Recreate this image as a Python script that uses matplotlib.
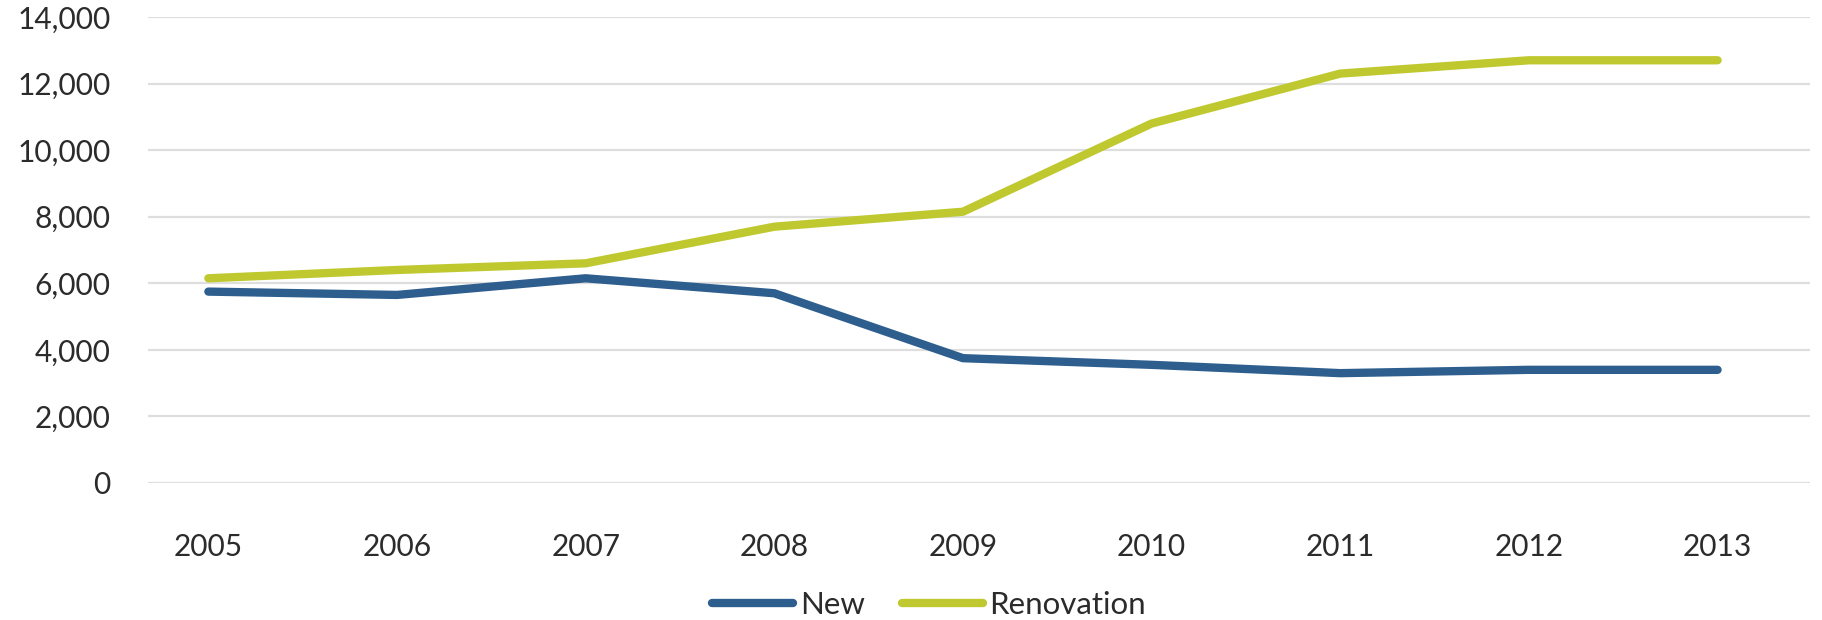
import matplotlib
matplotlib.use("Agg")
import matplotlib.pyplot as plt
from matplotlib.ticker import FuncFormatter

years = ["2005", "2006", "2007", "2008", "2009", "2010", "2011", "2012", "2013"]
new = [5750, 5650, 6150, 5700, 3750, 3550, 3300, 3400, 3400]
renovation = [6150, 6400, 6600, 7700, 8150, 10800, 12300, 12700, 12700]
yticks = [0, 2000, 4000, 6000, 8000, 10000, 12000, 14000]

plt.rcParams['font.family'] = ['Lato', 'DejaVu Sans']
text_color = '#2b2b2b'

fig = plt.figure(figsize=(18.22, 6.2), dpi=100)
ax = fig.add_axes([148 / 1822, 1 - 483 / 620, (1810 - 148) / 1822, (483 - 17) / 620])

x = list(range(len(years)))
ax.plot(x, new, color='#2d5e8e', lw=6, solid_capstyle='round', solid_joinstyle='round', label='New')
ax.plot(x, renovation, color='#bfc92f', lw=6, solid_capstyle='round', solid_joinstyle='round', label='Renovation')

ax.set_xlim(-0.32, 8.49)
ax.set_ylim(0, 14000)
ax.set_xticks(x)
ax.set_xticklabels(years)
ax.set_yticks(yticks)
ax.yaxis.set_major_formatter(FuncFormatter(lambda v, p: f"{int(v):,}"))

ax.grid(axis='y', color='#dedede', lw=1.6)
ax.set_axisbelow(True)
for s in ax.spines.values():
    s.set_visible(False)
ax.tick_params(axis='both', length=0, labelsize=21.5, labelcolor=text_color)
ax.tick_params(axis='y', pad=27)
ax.tick_params(axis='x', pad=36)

fig.legend(loc='center', bbox_to_anchor=(0.51, 0.025), ncol=2, frameon=False,
           fontsize=22.5, labelcolor=text_color, handlelength=2.6,
           handletextpad=0.2, columnspacing=1.2)

fig.savefig("out.png", dpi=100)
